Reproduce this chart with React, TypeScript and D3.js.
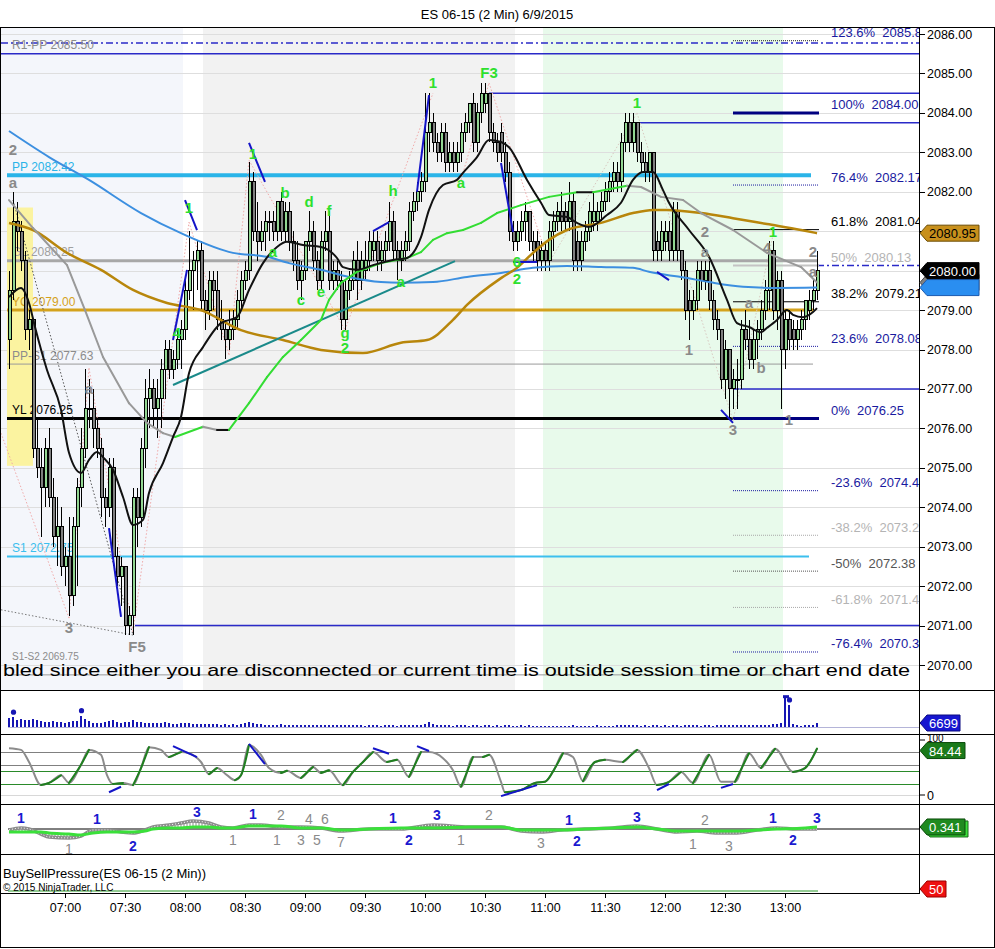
import { useRef, useEffect } from "react";
import * as d3 from "d3";

type Bar = [number, number, number, number];
type Pt = [string, number];

const W = 995;
const H = 949;
const axisX = 919;
const font = "'Liberation Sans', Arial, sans-serif";

// 2 minute bars, first one at 06:32
const firstBar = "06:32";
const barStep = 2;

// open, high, low, close
const ohlc: Bar[] = [
  [2078.25, 2080.0, 2077.5, 2079.5], [2079.5, 2082.0, 2079.25, 2081.25], [2081.25, 2081.75, 2080.5, 2081.0], [2081.0, 2081.25, 2080.0, 2080.25],
  [2080.25, 2080.5, 2078.25, 2078.5], [2078.5, 2079.0, 2078.0, 2078.75], [2078.75, 2078.75, 2075.25, 2075.5], [2075.5, 2076.25, 2074.75, 2075.0],
  [2075.0, 2075.5, 2073.25, 2074.5], [2074.5, 2075.75, 2074.0, 2075.5], [2075.5, 2076.0, 2074.0, 2074.25], [2074.25, 2074.75, 2073.0, 2073.25],
  [2073.25, 2074.25, 2072.5, 2073.5], [2073.5, 2074.0, 2072.25, 2072.5], [2072.5, 2073.0, 2072.0, 2072.75], [2072.75, 2073.75, 2071.25, 2071.75],
  [2071.75, 2073.75, 2071.5, 2073.5], [2073.5, 2074.75, 2072.0, 2074.5], [2074.5, 2076.0, 2074.0, 2075.5], [2075.5, 2077.5, 2075.25, 2076.5],
  [2076.5, 2077.25, 2076.0, 2076.5], [2076.5, 2077.0, 2075.5, 2076.0], [2076.0, 2076.25, 2075.25, 2075.5], [2075.5, 2075.75, 2073.75, 2074.25],
  [2074.25, 2074.5, 2073.5, 2074.0], [2074.0, 2075.25, 2073.75, 2075.0], [2075.0, 2075.25, 2072.5, 2072.75], [2072.75, 2073.0, 2072.0, 2072.25],
  [2072.25, 2072.75, 2071.5, 2072.5], [2072.5, 2072.5, 2070.75, 2071.0], [2071.0, 2071.5, 2070.75, 2071.25], [2071.25, 2074.5, 2070.75, 2074.25],
  [2074.25, 2074.5, 2073.0, 2073.75], [2073.75, 2075.75, 2073.5, 2075.5], [2075.5, 2077.25, 2075.0, 2076.75], [2076.75, 2077.5, 2076.0, 2077.0],
  [2077.0, 2077.25, 2076.0, 2076.5], [2076.5, 2077.25, 2075.75, 2076.75], [2076.75, 2077.75, 2076.0, 2077.5], [2077.5, 2078.25, 2076.75, 2078.0],
  [2078.0, 2078.25, 2077.25, 2077.5], [2077.5, 2078.0, 2077.25, 2077.75], [2077.75, 2078.5, 2077.5, 2078.25], [2078.25, 2078.75, 2077.5, 2078.5],
  [2078.5, 2079.75, 2078.25, 2079.5], [2079.5, 2081.0, 2079.25, 2080.0], [2080.0, 2080.5, 2079.0, 2080.25], [2080.25, 2080.75, 2079.5, 2080.5],
  [2080.5, 2080.75, 2079.0, 2079.25], [2079.25, 2079.5, 2078.5, 2079.0], [2079.0, 2080.0, 2078.75, 2079.75], [2079.75, 2080.0, 2079.0, 2079.5],
  [2079.5, 2080.0, 2078.5, 2078.75], [2078.75, 2079.25, 2078.25, 2078.5], [2078.5, 2078.75, 2077.75, 2078.25], [2078.25, 2079.0, 2078.0, 2078.5],
  [2078.5, 2079.0, 2078.25, 2078.75], [2078.75, 2079.5, 2078.5, 2079.25], [2079.25, 2080.0, 2079.0, 2079.75], [2079.75, 2080.25, 2079.5, 2080.0],
  [2080.0, 2082.75, 2079.75, 2082.25], [2082.25, 2082.5, 2080.75, 2081.0], [2081.0, 2081.75, 2080.25, 2080.75], [2080.75, 2081.25, 2080.5, 2081.0],
  [2081.0, 2081.5, 2080.5, 2081.25], [2081.25, 2081.5, 2080.75, 2081.25], [2081.25, 2081.5, 2080.75, 2081.0], [2081.0, 2081.75, 2080.75, 2081.75],
  [2081.75, 2082.0, 2080.75, 2081.0], [2081.0, 2081.75, 2080.75, 2081.5], [2081.5, 2081.75, 2080.5, 2080.75], [2080.75, 2081.0, 2080.0, 2080.25],
  [2080.25, 2080.75, 2079.5, 2079.75], [2079.75, 2080.25, 2079.25, 2080.0], [2080.0, 2080.75, 2079.75, 2080.75], [2080.75, 2081.5, 2080.5, 2081.0],
  [2081.0, 2081.25, 2080.0, 2080.25], [2080.25, 2080.5, 2079.5, 2079.75], [2079.75, 2081.0, 2079.5, 2080.75], [2080.75, 2081.5, 2080.5, 2081.0],
  [2081.0, 2081.5, 2079.5, 2079.75], [2079.75, 2080.25, 2079.5, 2080.0], [2080.0, 2080.25, 2079.5, 2079.75], [2079.75, 2080.0, 2078.5, 2078.75],
  [2078.75, 2079.75, 2078.5, 2079.5], [2079.5, 2080.0, 2079.25, 2079.75], [2079.75, 2080.5, 2079.5, 2080.25], [2080.25, 2080.75, 2079.25, 2079.75],
  [2079.75, 2080.5, 2079.5, 2080.25], [2080.0, 2080.75, 2079.75, 2080.25], [2080.25, 2081.0, 2080.0, 2080.75], [2080.5, 2081.0, 2080.25, 2080.75],
  [2080.75, 2081.0, 2080.0, 2080.25], [2080.25, 2080.75, 2080.0, 2080.5], [2080.5, 2081.0, 2080.25, 2080.75], [2080.75, 2081.75, 2080.5, 2081.25],
  [2081.25, 2081.5, 2080.25, 2080.5], [2080.5, 2080.75, 2079.75, 2080.25], [2080.25, 2080.75, 2080.0, 2080.5], [2080.5, 2081.0, 2080.25, 2080.75],
  [2080.75, 2081.75, 2080.5, 2081.5], [2081.5, 2082.0, 2081.25, 2081.75], [2081.75, 2082.25, 2081.5, 2082.0], [2082.0, 2082.5, 2081.75, 2082.25],
  [2082.25, 2084.5, 2082.0, 2083.5], [2083.5, 2084.5, 2083.0, 2083.75], [2083.75, 2084.0, 2083.0, 2083.25], [2083.25, 2083.5, 2082.75, 2083.0],
  [2083.0, 2083.75, 2082.75, 2083.5], [2083.5, 2083.75, 2082.5, 2082.75], [2082.75, 2083.25, 2082.5, 2083.0], [2083.0, 2083.25, 2082.5, 2082.75],
  [2082.75, 2083.25, 2082.5, 2083.0], [2083.0, 2083.75, 2082.75, 2083.5], [2083.5, 2084.0, 2083.25, 2083.75], [2083.75, 2084.25, 2083.5, 2084.25],
  [2084.25, 2084.5, 2083.0, 2083.25], [2083.25, 2084.25, 2083.0, 2084.0], [2084.0, 2084.75, 2083.75, 2084.5], [2084.25, 2084.75, 2084.0, 2084.5],
  [2084.5, 2084.5, 2083.25, 2083.5], [2083.5, 2083.75, 2083.0, 2083.25], [2083.25, 2083.5, 2082.75, 2083.0], [2083.5, 2083.75, 2082.75, 2083.0],
  [2083.0, 2083.25, 2082.25, 2082.5], [2082.5, 2082.75, 2080.75, 2081.0], [2081.0, 2081.25, 2080.5, 2080.75], [2080.75, 2081.25, 2080.5, 2081.0],
  [2081.0, 2081.5, 2080.75, 2081.25], [2081.25, 2081.75, 2080.75, 2081.5], [2081.5, 2081.5, 2080.5, 2080.75], [2080.75, 2081.0, 2080.25, 2080.5],
  [2080.75, 2081.0, 2080.0, 2080.25], [2080.25, 2080.75, 2080.0, 2080.5], [2080.5, 2080.75, 2080.0, 2080.25], [2080.25, 2081.25, 2080.0, 2081.0],
  [2081.0, 2081.5, 2080.5, 2081.25], [2081.25, 2081.75, 2081.0, 2081.5], [2081.5, 2082.0, 2081.0, 2081.25], [2081.5, 2081.75, 2081.0, 2081.25],
  [2081.25, 2082.25, 2081.0, 2081.75], [2081.75, 2082.0, 2080.0, 2080.25], [2080.75, 2081.0, 2080.0, 2080.25], [2080.25, 2081.0, 2080.0, 2080.75],
  [2080.75, 2081.25, 2080.5, 2081.0], [2081.0, 2081.75, 2080.75, 2081.5], [2081.25, 2082.0, 2081.0, 2081.5], [2081.25, 2081.75, 2081.0, 2081.5],
  [2081.5, 2082.0, 2081.25, 2081.75], [2081.75, 2082.25, 2081.5, 2082.0], [2082.0, 2082.5, 2081.75, 2082.25], [2082.25, 2082.75, 2082.0, 2082.5],
  [2082.5, 2082.75, 2082.0, 2082.25], [2082.25, 2083.5, 2082.0, 2083.25], [2083.25, 2084.0, 2083.0, 2083.75], [2083.75, 2084.0, 2083.0, 2083.25],
  [2083.25, 2084.0, 2083.0, 2083.75], [2083.75, 2083.75, 2082.75, 2083.0], [2083.0, 2083.25, 2082.5, 2082.75], [2082.75, 2083.0, 2082.25, 2082.5],
  [2082.5, 2083.0, 2082.25, 2083.0], [2083.0, 2083.0, 2080.25, 2080.5], [2080.75, 2081.0, 2080.25, 2080.5], [2080.5, 2081.25, 2080.25, 2081.0],
  [2080.75, 2081.25, 2080.5, 2081.0], [2081.0, 2081.25, 2080.25, 2080.5], [2080.5, 2081.75, 2080.25, 2081.5], [2081.5, 2081.75, 2080.25, 2080.5],
  [2080.5, 2080.5, 2079.75, 2080.0], [2080.0, 2080.25, 2078.75, 2079.0], [2079.25, 2079.5, 2078.25, 2079.0], [2079.0, 2079.5, 2078.75, 2079.25],
  [2079.25, 2080.25, 2079.0, 2080.0], [2080.0, 2080.25, 2079.5, 2079.75], [2079.75, 2080.25, 2079.5, 2080.0], [2080.0, 2080.25, 2079.0, 2079.25],
  [2079.25, 2079.5, 2078.5, 2078.75], [2078.75, 2079.0, 2078.25, 2078.5], [2078.5, 2078.5, 2077.0, 2077.25], [2077.25, 2078.25, 2076.75, 2078.0],
  [2078.0, 2078.0, 2076.25, 2077.0], [2077.0, 2077.5, 2076.5, 2077.25], [2077.25, 2077.75, 2076.5, 2077.25], [2077.25, 2078.75, 2077.0, 2078.5],
  [2078.5, 2079.0, 2078.0, 2078.25], [2078.25, 2078.75, 2077.5, 2077.75], [2077.75, 2078.5, 2077.5, 2078.25], [2078.25, 2078.75, 2077.75, 2078.5],
  [2078.5, 2079.25, 2078.25, 2079.0], [2079.0, 2079.75, 2078.75, 2079.5], [2079.5, 2080.75, 2079.0, 2080.5], [2080.5, 2080.75, 2078.75, 2079.0],
  [2079.0, 2080.0, 2078.5, 2079.75], [2079.75, 2080.0, 2076.5, 2078.0], [2078.0, 2079.0, 2077.5, 2078.75], [2078.75, 2079.0, 2078.0, 2078.25],
  [2078.5, 2078.75, 2078.0, 2078.25], [2078.25, 2078.75, 2078.0, 2078.5], [2078.5, 2079.0, 2078.25, 2078.75], [2078.75, 2079.25, 2078.5, 2079.25],
  [2079.0, 2079.5, 2078.75, 2079.25], [2079.25, 2079.75, 2079.0, 2079.5], [2079.5, 2080.5, 2079.25, 2080.0]
];

const volume = [
  15000, 16500, 11000, 13000, 11500, 12000, 13000, 11000, 10000, 8500,
  8000, 9500, 8000, 8500, 7000, 8000, 10000, 9500, 19000, 13000,
  9500, 7000, 6500, 7000, 8000, 10000, 11000, 8000, 7500, 9000,
  8000, 11000, 8000, 9000, 7500, 7500, 6500, 6000, 7500, 8000,
  6000, 5000, 5000, 6000, 7500, 7000, 5500, 5000, 5000, 4500,
  5500, 5000, 4500, 4000, 4500, 4000, 4500, 4000, 5000, 6500,
  8000, 6000, 5000, 4500, 4000, 4000, 3500, 4000, 4500, 4000,
  3500, 4000, 3500, 3500, 4000, 3500, 3000, 3500, 4000, 3500,
  3500, 3000, 3500, 3500, 3000, 3000, 3500, 3000, 3000, 2500,
  3000, 3000, 3000, 2500, 3000, 3000, 3000, 2500, 3000, 3500,
  3000, 3500, 3000, 3000, 5500, 8000, 4500, 3500, 3000, 3000,
  3000, 2500, 3000, 3000, 3000, 2500, 3000, 3000, 2500, 3000,
  3000, 2500, 3000, 2500, 3000, 3000, 2500, 2500, 3000, 2500,
  3000, 2500, 2500, 2500, 2500, 2000, 2500, 2500, 2500, 2500,
  2500, 3000, 2500, 2500, 2500, 2500, 2500, 3000, 2500, 2500,
  2500, 2500, 3000, 3500, 3500, 3000, 3500, 3000, 2500, 3000,
  2500, 3500, 3000, 2500, 3000, 2500, 3000, 3000, 2500, 3000,
  3500, 3000, 3000, 2500, 3000, 3000, 2500, 3000, 3500, 3000,
  3500, 3000, 3000, 3000, 3500, 3000, 3000, 3500, 3500, 3000,
  3500, 4500, 5000, 7500, 50000, 37000, 5000, 3500, 2500, 3000,
  3000, 3500, 6699
];
const volumeDots = [1, 18, 195];
const volumeCaps = [194];

const priceTicks = [2070, 2071, 2072, 2073, 2074, 2075, 2076, 2077, 2078, 2079, 2080, 2081, 2082, 2083, 2084, 2085, 2086];
const timeTicks = ["07:00", "07:30", "08:00", "08:30", "09:00", "09:30", "10:00", "10:30", "11:00", "11:30", "12:00", "12:30", "13:00"];

// session shading
const sessions: [string, string, string][] = [
  ["06:27", "07:59", "#f4f6fb"],
  ["08:09", "10:45", "#f2f2f2"],
  ["10:59", "12:59", "#e8faeb"]
];
const openRange = { from: "06:31", to: "06:44", top: 2081.6, bottom: 2075.05 };

// moving averages
const blueMA: Pt[] = [
  ["06:32", 2083.54], ["06:52", 2082.88], ["07:12", 2082.3], ["07:38", 2081.46], ["07:58", 2080.95], ["08:24", 2080.45],
  ["08:41", 2080.35], ["08:52", 2080.19], ["09:08", 2080.02], ["09:22", 2079.84], ["09:38", 2079.71], ["09:48", 2079.69],
  ["10:04", 2079.71], ["10:21", 2079.84], ["10:38", 2079.94], ["10:54", 2080.07], ["11:11", 2080.12], ["11:28", 2080.09],
  ["11:44", 2080.07], ["11:52", 2079.97], ["12:01", 2079.89], ["12:08", 2079.84], ["12:22", 2079.71], ["12:39", 2079.59],
  ["12:56", 2079.56], ["13:16", 2079.57]
];
const goldMA: Pt[] = [
  ["06:32", 2081.21], ["06:44", 2081.03], ["07:01", 2080.45], ["07:18", 2080.02], ["07:34", 2079.51], ["07:51", 2079.18],
  ["08:08", 2079.0], ["08:28", 2078.49], ["08:49", 2078.24], ["09:08", 2077.99], ["09:29", 2077.91], ["09:48", 2078.17],
  ["10:01", 2078.24], ["10:14", 2078.75], ["10:21", 2079.13], ["10:38", 2079.81], ["10:46", 2080.07], ["10:54", 2080.45],
  ["11:02", 2080.78], ["11:11", 2081.03], ["11:28", 2081.21], ["11:44", 2081.46], ["11:54", 2081.54], ["12:01", 2081.54],
  ["12:18", 2081.46], ["12:34", 2081.33], ["12:51", 2081.18], ["13:08", 2081.03], ["13:16", 2080.95]
];
const trendMA: Pt[] = [
  ["06:32", 2081.79], ["06:44", 2081.08], ["07:01", 2080.14], ["07:10", 2079.0], ["07:19", 2077.81], ["07:32", 2076.64],
  ["07:41", 2076.14], ["07:49", 2075.88], ["07:55", 2075.78], ["08:09", 2076.04], ["08:16", 2075.96], ["08:22", 2075.96],
  ["08:32", 2076.64], ["08:41", 2077.3], ["08:49", 2077.81], ["08:58", 2078.24], ["09:08", 2078.75], ["09:12", 2079.26],
  ["09:18", 2079.69], ["09:26", 2079.97], ["09:38", 2080.19], ["09:51", 2080.32], ["09:58", 2080.47], ["10:04", 2080.78],
  ["10:11", 2080.95], ["10:19", 2081.03], ["10:28", 2081.21], ["10:36", 2081.46], ["10:48", 2081.66], ["11:02", 2081.87],
  ["11:16", 2081.99], ["11:24", 2081.99], ["11:41", 2082.15], ["11:48", 2082.12], ["11:58", 2081.87], ["12:09", 2081.79],
  ["12:18", 2081.46], ["12:34", 2081.03], ["12:51", 2080.45], ["13:08", 2080.09], ["13:16", 2079.7]
];
const fastMA: Pt[] = [
  ["06:32", 2079.33], ["06:38", 2079.56], ["06:42", 2079.18], ["06:45", 2078.57], ["06:51", 2077.48], ["06:58", 2076.47],
  ["07:02", 2075.38], ["07:08", 2074.87], ["07:12", 2075.2], ["07:16", 2075.4], ["07:19", 2075.27], ["07:24", 2074.95],
  ["07:29", 2074.26], ["07:34", 2073.55], ["07:39", 2073.68], ["07:42", 2074.36], ["07:49", 2075.12], ["07:54", 2075.78],
  ["07:58", 2076.29], ["08:02", 2077.4], ["08:09", 2078.06], ["08:18", 2078.67], ["08:26", 2078.82], ["08:32", 2079.51],
  ["08:39", 2080.19], ["08:46", 2080.6], ["08:51", 2080.73], ["08:59", 2080.65], ["09:08", 2080.6], ["09:16", 2080.32],
  ["09:19", 2080.09], ["09:26", 2080.02], ["09:34", 2080.14], ["09:44", 2080.27], ["09:51", 2080.32], ["09:58", 2080.85],
  ["10:02", 2081.54], ["10:09", 2082.17], ["10:16", 2082.3], ["10:19", 2082.48], ["10:26", 2082.88], ["10:32", 2083.31],
  ["10:38", 2083.26], ["10:42", 2083.13], ["10:51", 2082.3], ["10:58", 2081.72], ["11:02", 2081.41], ["11:11", 2081.36],
  ["11:16", 2081.21], ["11:22", 2081.11], ["11:31", 2081.41], ["11:38", 2081.72], ["11:44", 2082.3], ["11:49", 2082.5],
  ["11:54", 2082.5], ["11:59", 2082.04], ["12:02", 2081.72], ["12:12", 2081.03], ["12:22", 2080.35], ["12:31", 2079.26],
  ["12:36", 2078.67], ["12:42", 2078.57], ["12:48", 2078.44], ["12:51", 2078.55], ["12:56", 2078.75], ["13:01", 2079.0],
  ["13:04", 2078.88], ["13:09", 2078.82], ["13:14", 2078.95], ["13:16", 2079.05]
];
const trendLine: Pt[] = [["07:54", 2077.1], ["10:15", 2080.24]];

// zigzag swing connectors
const swingLines: [string, number, string, number, string][] = [
  ["06:28", 2075.88, "07:02", 2071.19, "#f0aaaa"],
  ["07:02", 2071.19, "07:12", 2077.53, "#f0aaaa"],
  ["07:12", 2077.53, "07:34", 2070.84, "#f0aaaa"],
  ["07:34", 2070.84, "08:02", 2081.23, "#f0aaaa"],
  ["08:02", 2081.23, "08:22", 2077.86, "#f0aaaa"],
  ["08:22", 2077.86, "08:32", 2082.8, "#f0aaaa"],
  ["08:32", 2082.8, "09:20", 2078.5, "#f0aaaa"],
  ["09:20", 2078.5, "10:04", 2084.5, "#f0aaaa"],
  ["10:18", 2082.3, "10:32", 2084.76, "#f0aaaa"],
  ["10:32", 2084.76, "11:02", 2080.2, "#f0aaaa"],
  ["11:02", 2080.2, "11:46", 2084.0, "#d8c8c0"],
  ["11:46", 2084.0, "12:34", 2076.2, "#d8c8c0"],
  ["12:34", 2076.2, "12:54", 2080.9, "#d8c8c0"],
  ["06:34", 2081.79, "07:34", 2070.76, "#555555"],
  ["06:28", 2071.4, "07:34", 2070.76, "#777777"]
];

// short blue strokes
const strokes: [string, number, string, number][] = [
  ["08:00", 2081.79, "08:06", 2081.03], ["08:32", 2083.24, "08:40", 2082.25], ["09:34", 2081.0, "09:42", 2081.23],
  ["09:56", 2082.0, "10:02", 2084.45], ["07:22", 2073.47, "07:28", 2071.22], ["07:54", 2078.24, "08:01", 2080.02],
  ["10:38", 2082.73, "10:44", 2080.98], ["11:56", 2079.97, "12:02", 2079.76], ["12:28", 2076.47, "12:34", 2076.14],
  ["10:44", 2080.22, "10:56", 2080.22]
];

const green = "#2ee02e";
const grey = "#8a8a8a";
const waveLabels: [string, string, number, string][] = [
  ["1", "10:04", 2084.78, green], ["F3", "10:32", 2085.01, green], ["1", "11:46", 2084.25, green],
  ["b", "08:50", 2081.99, green], ["d", "09:02", 2081.74, green], ["f", "09:12", 2081.51, green],
  ["h", "09:44", 2082.02, green], ["a", "08:44", 2080.47, green], ["c", "08:58", 2079.26, green],
  ["e", "09:08", 2079.46, green], ["g", "09:20", 2078.44, green], ["2", "09:20", 2078.04, green],
  ["a", "10:18", 2082.22, green], ["a", "09:48", 2079.71, green], ["1", "08:02", 2081.59, green],
  ["1", "08:34", 2082.98, green], ["4", "07:56", 2078.42, green], ["2", "10:46", 2079.79, green],
  ["6", "10:46", 2080.22, green], ["1", "12:54", 2080.98, green],
  ["2", "06:34", 2083.08, grey], ["a", "06:34", 2082.22, grey], ["a", "07:12", 2077.0, grey],
  ["3", "07:02", 2070.96, grey], ["F5", "07:36", 2070.46, grey], ["2", "12:20", 2080.98, grey],
  ["a", "12:20", 2080.47, grey], ["1", "12:12", 2077.99, grey], ["b", "12:48", 2077.53, grey],
  ["a", "12:42", 2079.2, grey], ["3", "12:34", 2075.96, grey], ["1", "13:02", 2076.21, grey],
  ["2", "13:14", 2080.47, grey], ["a", "13:14", 2079.97, grey], ["4", "12:51", 2080.58, grey]
];

// fibonacci levels: percent, price, line colour, line style, label colour
const fibLevels: [string, number, string, string, string][] = [
  ["123.6", 2085.83, "#222222", "dot", "#1a1aa0"],
  ["100", 2084.0, "#000080", "thick", "#1a1aa0"],
  ["76.4", 2082.17, "#1a1aa0", "dot", "#1a1aa0"],
  ["61.8", 2081.04, "#000000", "thin", "#000000"],
  ["50", 2080.13, "#c4c4c4", "mid", "#b4b4b4"],
  ["38.2", 2079.21, "#000000", "thin", "#000000"],
  ["23.6", 2078.08, "#1a1aa0", "dot", "#1a1aa0"],
  ["0", 2076.25, "#000080", "thick", "#1a1aa0"],
  ["-23.6", 2074.42, "#1a1aa0", "dot", "#1a1aa0"],
  ["-38.2", 2073.29, "#a8a8a8", "dot", "#b4b4b4"],
  ["-50", 2072.38, "#555555", "dot", "#555555"],
  ["-61.8", 2071.46, "#a8a8a8", "dot", "#b4b4b4"],
  ["-76.4", 2070.33, "#1a1aa0", "dot", "#1a1aa0"]
];
const fibFrom = "12:34";
const fibTo = "13:17";

// horizontal levels: price, colour, width, dashed, from, to ("" = to the axis), label, label colour
const levels: [number, string, number, boolean, string, string, string, string][] = [
  [2085.77, "#2a2ac8", 1.5, true, "06:28", "", "", ""],
  [2085.5, "#2a2ac8", 1.5, false, "06:28", "", "R1-PP 2085.50", "#8c8c8c"],
  [2084.5, "#2a2ac8", 1.5, false, "10:32", "", "", ""],
  [2083.75, "#2a2ac8", 1.5, false, "11:46", "", "", ""],
  [2082.42, "#2ab4e8", 4, false, "06:31", "13:13", "PP 2082.42", "#2ab4e8"],
  [2080.25, "#a8a8a8", 3, false, "06:31", "13:16", "GL 2080.25", "#a0a0a0"],
  [2080.13, "#2a2ac8", 1.5, true, "13:16", "", "", ""],
  [2079.0, "#d4a21c", 3, false, "06:31", "13:14", "YC 2079.00", "#d4a21c"],
  [2077.63, "#9a9a9a", 1, false, "06:31", "13:14", "PP-S1 2077.63", "#8c8c8c"],
  [2077.0, "#2a2ac8", 1.5, false, "12:34", "", "", ""],
  [2076.25, "#000000", 3, false, "06:31", "13:16", "YL 2076.25", "#000000"],
  [2072.75, "#3cbfee", 2, false, "06:31", "13:12", "S1 2072.75", "#3cbfee"],
  [2071.0, "#2a2ac8", 1.5, false, "07:35", "", "", ""],
  [2069.75, "#9a9a9a", 1, false, "06:31", "13:14", "S1-S2 2069.75", "#8c8c8c"]
];

// stochastics
const stoch: Pt[] = [
  ["06:32", 85], ["06:38", 82], ["06:42", 60], ["06:48", 18], ["06:52", 22], ["06:58", 36], ["07:02", 22], ["07:08", 55],
  ["07:12", 82], ["07:18", 73], ["07:21", 36], ["07:24", 20], ["07:29", 22], ["07:34", 18], ["07:38", 49], ["07:42", 87],
  ["07:48", 82], ["07:52", 69], ["07:58", 78], ["08:02", 76], ["08:08", 60], ["08:12", 38], ["08:16", 49], ["08:21", 36],
  ["08:25", 27], ["08:28", 36], ["08:32", 91], ["08:38", 73], ["08:42", 49], ["08:48", 40], ["08:51", 44], ["08:58", 31],
  ["09:04", 51], ["09:08", 40], ["09:12", 45], ["09:19", 18], ["09:24", 42], ["09:29", 60], ["09:34", 78], ["09:41", 60],
  ["09:46", 64], ["09:52", 33], ["09:58", 78], ["10:02", 78], ["10:09", 67], ["10:14", 45], ["10:18", 15], ["10:24", 69],
  ["10:29", 69], ["10:32", 73], ["10:38", 24], ["10:40", 5], ["10:48", 9], ["10:55", 22], ["11:00", 24], ["11:05", 49],
  ["11:09", 76], ["11:14", 69], ["11:19", 25], ["11:25", 60], ["11:30", 64], ["11:39", 60], ["11:46", 82], ["11:52", 49],
  ["11:56", 18], ["12:02", 24], ["12:08", 42], ["12:14", 22], ["12:22", 73], ["12:28", 24], ["12:35", 24], ["12:42", 76],
  ["12:48", 49], ["12:55", 84], ["13:04", 42], ["13:10", 49], ["13:16", 84.44]
];
const stochLevels: [number, string][] = [[78, "#808080"], [54, "#808080"], [43, "#2a8a2a"], [20, "#2a8a2a"], [0, "#d8d8d8"]];
const stochAxis = [0, 100];
const stochStrokes: [string, number, string, number][] = [
  ["07:22", 5, "07:28", 15], ["07:54", 89, "08:06", 69], ["08:32", 93, "08:40", 56], ["09:34", 85, "09:42", 75],
  ["09:56", 89, "10:02", 80], ["10:38", -2, "10:56", 18], ["11:56", 9, "12:02", 20], ["12:28", 13, "12:34", 20]
];

// oscillator: sample times with slow (grey) and fast (green) values
const oscTimes = [
  "06:32", "06:38", "06:42", "06:48", "06:52", "07:02", "07:08", "07:14", "07:21", "07:28", "07:34", "07:40", "07:44", "07:52",
  "07:58", "08:04", "08:12", "08:18", "08:24", "08:32", "08:38", "08:48", "08:58", "09:08", "09:18", "09:32", "09:48", "10:04",
  "10:22", "10:38", "10:48", "10:58", "11:08", "11:20", "11:34", "11:46", "11:56", "12:06", "12:16", "12:26", "12:36", "12:46",
  "12:56", "13:06", "13:16"
];
const oscSlow = [
  -0.17, 0.17, 0, -0.84, -1.34, -1.5, -1.18, -0.17, -0.17, -0.5, -0.67, -0.17, 0.34, 0.67,
  1.0, 1.34, 1.0, 0.34, 0.17, 0.67, 0.67, 0.34, 0.34, 0.17, -0.34, 0, 0, 0.67,
  0.34, 0.34, -0.34, -0.5, -0.17, 0, 0.17, 0.5, 0, -0.5, -0.34, -0.67, -0.67, -0.17,
  0.17, 0, 0
];
const oscFast = [
  -0.5, -0.5, -0.5, -0.5, -0.67, -0.84, -1.0, -0.67, -0.5, -0.5, -0.5, -0.34, 0, 0.17,
  0.17, 0.34, 0.34, 0.17, 0.17, 0.5, 0.5, 0.5, 0.17, 0.17, -0.17, 0, 0.17, 0.17,
  0.34, 0.34, -0.17, -0.17, -0.17, 0, 0.17, 0.34, 0, -0.34, -0.34, -0.34, -0.34, -0.17,
  0, 0.1, 0.341
];
const blue = "#1a1ad0";
const oscLabels: [string, string, number, string][] = [
  ["1", "06:38", 1.85, blue], ["1", "07:16", 1.68, blue], ["3", "08:06", 2.86, blue], ["1", "08:34", 2.52, blue],
  ["2", "08:48", 2.35, grey], ["4", "09:02", 1.68, grey], ["6", "09:10", 1.68, grey], ["1", "09:44", 1.85, blue],
  ["3", "10:06", 2.35, blue], ["2", "10:32", 2.35, grey], ["1", "11:12", 1.5, blue], ["3", "11:46", 2.0, blue],
  ["2", "12:20", 1.5, grey], ["1", "12:54", 1.85, blue], ["3", "13:16", 1.85, blue],
  ["1", "07:02", -3.36, grey], ["2", "07:34", -2.86, blue], ["1", "08:24", -1.85, grey], ["1", "08:46", -1.85, grey],
  ["3", "08:58", -1.85, grey], ["5", "09:06", -1.85, grey], ["7", "09:18", -2.18, grey], ["2", "09:52", -1.85, blue],
  ["1", "10:18", -1.85, grey], ["3", "10:58", -2.35, grey], ["2", "11:16", -2.0, blue], ["1", "12:14", -2.52, grey],
  ["3", "12:32", -2.86, grey], ["2", "13:04", -1.85, blue]
];

const bspLevel = 50;

const message = "bled since either you are disconnected or current time is outside session time or chart end date";

export default function App() {
  const svgRef = useRef<SVGSVGElement>(null);

  useEffect(() => {
    const svg = d3.select(svgRef.current as SVGSVGElement);
    svg.selectAll("*").remove();

    const tp = d3.timeParse("%H:%M");
    const t = (s: string) => tp(s) as Date;
    const barTime = (i: number) => d3.timeMinute.offset(t(firstBar), i * barStep);

    const x = d3.scaleTime().domain([t("07:00"), t("13:00")]).range([65, 785]);
    const y = d3.scaleLinear().domain([2070, 2086]).range([665, 34]);
    const yVol = d3.scaleLinear().domain([0, 57000]).range([727, 693]);
    const yStoch = d3.scaleLinear().domain([0, 100]).range([795, 740]);
    const yOsc = d3.scaleLinear().domain([-4.2, 4.2]).range([854, 804]);
    const yBsp = d3.scaleLinear().domain([0, 100]).range([895, 887]);

    const panels = { price: [27, 690], vol: [690, 734], stoch: [734, 804], osc: [804, 854], bsp: [854, 893] };

    svg.append("rect").attr("width", W).attr("height", H).attr("fill", "#fff");

    const defs = svg.append("defs");
    Object.entries(panels).forEach(([k, [a, b]]) => {
      defs.append("clipPath").attr("id", "clip-" + k)
        .append("rect").attr("x", 1).attr("y", a + 1).attr("width", axisX - 1).attr("height", b - a - 1);
    });
    const hatch = defs.append("pattern").attr("id", "hatch").attr("width", 3).attr("height", 4)
      .attr("patternUnits", "userSpaceOnUse");
    hatch.append("rect").attr("width", 3).attr("height", 4).attr("fill", "#fff");
    hatch.append("line").attr("x1", 1).attr("x2", 1).attr("y1", 0).attr("y2", 4).attr("stroke", "#8a8a8a").attr("stroke-width", 1);

    // title
    svg.append("text").attr("x", 497).attr("y", 19).attr("text-anchor", "middle")
      .style("font-family", font).style("font-size", "13px").text("ES 06-15 (2 Min)  6/9/2015");

    // ---------------- price panel
    const pg = svg.append("g").attr("clip-path", "url(#clip-price)");

    pg.selectAll("rect.session").data(sessions).join("rect")
      .attr("x", d => x(t(d[0]))).attr("width", d => x(t(d[1])) - x(t(d[0])))
      .attr("y", panels.price[0]).attr("height", panels.price[1] - panels.price[0])
      .attr("fill", d => d[2]);

    pg.selectAll("line.grid").data(priceTicks).join("line")
      .attr("x1", 1).attr("x2", axisX).attr("y1", d => Math.round(y(d)) + 0.5).attr("y2", d => Math.round(y(d)) + 0.5)
      .attr("stroke", "#dedede");

    pg.append("rect")
      .attr("x", x(t(openRange.from))).attr("width", x(t(openRange.to)) - x(t(openRange.from)))
      .attr("y", y(openRange.top)).attr("height", y(openRange.bottom) - y(openRange.top))
      .attr("fill", "#fbf3a0");

    levels.forEach(([p, col, w, dashed, from, to, label, lc]) => {
      pg.append("line")
        .attr("x1", x(t(from))).attr("x2", to ? x(t(to)) : axisX)
        .attr("y1", y(p)).attr("y2", y(p))
        .attr("stroke", col).attr("stroke-width", w)
        .attr("stroke-dasharray", dashed ? "7,3,2,3" : null);
      if (label) {
        // the lowest label sits just above the message banner
        const ly = p < 2070 ? y(p) - 15 : y(p) - 4.5;
        pg.append("text").attr("x", 12).attr("y", ly).attr("fill", lc)
          .style("font-family", font).style("font-size", p < 2070 ? "10px" : "12px").text(label);
      }
    });

    // fib levels
    fibLevels.forEach(([pct, p, col, style, lc]) => {
      const ly = y(p);
      pg.append("line")
        .attr("x1", x(t(fibFrom))).attr("x2", x(t(fibTo)))
        .attr("y1", ly).attr("y2", ly).attr("stroke", col)
        .attr("stroke-width", style === "thick" ? 3 : style === "mid" ? 2 : 1)
        .attr("stroke-dasharray", style === "dot" ? "1,1" : null);
      pg.append("text").attr("x", 831).attr("y", ly - 3.5).attr("fill", lc)
        .style("font-family", font).style("font-size", "13px")
        .style("white-space", "pre")
        .text(`${pct}%  ${p.toFixed(2)}`);
    });

    const line = d3.line<Pt>().x(d => x(t(d[0]))).y(d => y(d[1])).curve(d3.curveMonotoneX);

    swingLines.forEach(([t1, p1, t2, p2, col]) => {
      pg.append("line").attr("x1", x(t(t1))).attr("y1", y(p1)).attr("x2", x(t(t2))).attr("y2", y(p2))
        .attr("stroke", col).attr("stroke-width", 1).attr("stroke-dasharray", "1.5,2");
    });

    // candles
    const cg = pg.append("g").attr("shape-rendering", "crispEdges");
    cg.selectAll("line.wick").data(ohlc).join("line")
      .attr("x1", (d, i) => Math.round(x(barTime(i))) + 0.5).attr("x2", (d, i) => Math.round(x(barTime(i))) + 0.5)
      .attr("y1", d => y(d[1])).attr("y2", d => y(d[2]))
      .attr("stroke", "#000");
    cg.selectAll("rect.body").data(ohlc).join("rect")
      .attr("x", (d, i) => Math.round(x(barTime(i))) - 1)
      .attr("width", 3)
      .attr("y", d => y(Math.max(d[0], d[3])))
      .attr("height", d => Math.max(1, Math.abs(y(d[0]) - y(d[3]))))
      .attr("fill", d => (d[3] > d[0] ? "#92d692" : "#7f7f7f"))
      .attr("stroke", "#000").attr("stroke-width", 1);

    // moving averages
    pg.append("path").attr("d", line(blueMA)).attr("fill", "none").attr("stroke", "#3c8fe0").attr("stroke-width", 2);
    pg.append("path").attr("d", line(goldMA)).attr("fill", "none").attr("stroke", "#b8860b").attr("stroke-width", 2.5);
    pg.append("line")
      .attr("x1", x(t(trendLine[0][0]))).attr("y1", y(trendLine[0][1]))
      .attr("x2", x(t(trendLine[1][0]))).attr("y2", y(trendLine[1][1]))
      .attr("stroke", "#1a8a8a").attr("stroke-width", 2);
    for (let k = 1; k < trendMA.length; k++) {
      const a = trendMA[k - 1], b = trendMA[k];
      const dp = b[1] - a[1];
      const col = Math.abs(dp) < 0.03 ? "#111" : dp > 0 ? "#33dd33" : "#999999";
      pg.append("line").attr("x1", x(t(a[0]))).attr("y1", y(a[1])).attr("x2", x(t(b[0]))).attr("y2", y(b[1]))
        .attr("stroke", col).attr("stroke-width", 2).attr("stroke-linecap", "round");
    }
    pg.append("path").attr("d", line(fastMA)).attr("fill", "none").attr("stroke", "#111").attr("stroke-width", 2);

    strokes.forEach(([t1, p1, t2, p2]) => {
      pg.append("line").attr("x1", x(t(t1))).attr("y1", y(p1)).attr("x2", x(t(t2))).attr("y2", y(p2))
        .attr("stroke", "#1414c8").attr("stroke-width", 2);
    });

    pg.selectAll("text.wave").data(waveLabels).join("text")
      .attr("x", d => x(t(d[1]))).attr("y", d => y(d[2])).attr("dy", "0.36em")
      .attr("text-anchor", "middle").attr("fill", d => d[3])
      .style("font-family", font).style("font-size", "15px").style("font-weight", "bold")
      .text(d => d[0]);

    pg.append("text").attr("x", 3).attr("y", 676).attr("textLength", 907).attr("lengthAdjust", "spacingAndGlyphs")
      .style("font-family", font).style("font-size", "17px").attr("fill", "#000").text(message);

    // ---------------- volume
    const vg = svg.append("g").attr("clip-path", "url(#clip-vol)");
    vg.append("line").attr("x1", 8).attr("x2", axisX).attr("y1", yVol(0) + 0.5).attr("y2", yVol(0) + 0.5).attr("stroke", "#b4b4d8");
    vg.selectAll("rect.vol").data(volume).join("rect")
      .attr("x", (d, i) => Math.round(x(barTime(i))) - 1).attr("width", 2)
      .attr("y", d => yVol(d)).attr("height", d => yVol(0) - yVol(d))
      .attr("fill", "#1616b4").attr("shape-rendering", "crispEdges");
    volumeDots.forEach(i => {
      vg.append("circle").attr("cx", x(barTime(i)) + 0.5).attr("cy", yVol(volume[i]) - 5).attr("r", 2.6).attr("fill", "#1616b4");
    });
    volumeCaps.forEach(i => {
      vg.append("rect").attr("x", x(barTime(i)) - 2).attr("y", yVol(volume[i]) - 2).attr("width", 6).attr("height", 3).attr("fill", "#1616b4");
    });

    // ---------------- stochastics
    const sg = svg.append("g").attr("clip-path", "url(#clip-stoch)");
    stochLevels.forEach(([v, col]) => {
      sg.append("line").attr("x1", 1).attr("x2", axisX).attr("y1", Math.round(yStoch(v)) + 0.5).attr("y2", Math.round(yStoch(v)) + 0.5)
        .attr("stroke", col);
    });
    const sLine = d3.line<Pt>().x(d => x(t(d[0]))).y(d => yStoch(d[1])).curve(d3.curveMonotoneX);
    sg.append("path").attr("d", sLine(stoch)).attr("fill", "none").attr("stroke", "#8c8c8c").attr("stroke-width", 2);
    // rising stretches in green
    let k = 1;
    while (k < stoch.length) {
      if (stoch[k][1] > stoch[k - 1][1]) {
        const start = k - 1;
        while (k < stoch.length && stoch[k][1] > stoch[k - 1][1]) k++;
        sg.append("path").attr("d", sLine(stoch.slice(start, k))).attr("fill", "none")
          .attr("stroke", "#1f7f1f").attr("stroke-width", 2).attr("stroke-linecap", "round");
      } else {
        k++;
      }
    }
    stochStrokes.forEach(([t1, v1, t2, v2]) => {
      sg.append("line").attr("x1", x(t(t1))).attr("y1", yStoch(v1)).attr("x2", x(t(t2))).attr("y2", yStoch(v2))
        .attr("stroke", "#1414c8").attr("stroke-width", 2);
    });

    // ---------------- oscillator
    const og = svg.append("g").attr("clip-path", "url(#clip-osc)");
    og.append("line").attr("x1", 8).attr("x2", axisX).attr("y1", yOsc(0)).attr("y2", yOsc(0)).attr("stroke", "#000");
    const idx = oscTimes.map((d, i) => i);
    const area = d3.area<number>().x(i => x(t(oscTimes[i]))).y0(i => yOsc(oscFast[i])).y1(i => yOsc(oscSlow[i])).curve(d3.curveMonotoneX);
    og.append("path").attr("d", area(idx)).attr("fill", "url(#hatch)").attr("stroke", "none");
    const slowLine = d3.line<number>().x(i => x(t(oscTimes[i]))).y(i => yOsc(oscSlow[i])).curve(d3.curveMonotoneX);
    const fastLine = d3.line<number>().x(i => x(t(oscTimes[i]))).y(i => yOsc(oscFast[i])).curve(d3.curveMonotoneX);
    og.append("path").attr("d", slowLine(idx)).attr("fill", "none").attr("stroke", "#8c8c8c").attr("stroke-width", 3.5);
    og.append("path").attr("d", slowLine(idx)).attr("fill", "none").attr("stroke", "#fff").attr("stroke-width", 1)
      .attr("stroke-dasharray", "1,2");
    og.append("path").attr("d", fastLine(idx)).attr("fill", "none").attr("stroke", "#3ae03a").attr("stroke-width", 3);
    og.selectAll("text.osc").data(oscLabels).join("text")
      .attr("x", d => x(t(d[1]))).attr("y", d => yOsc(d[2])).attr("dy", "0.36em")
      .attr("text-anchor", "middle").attr("fill", d => d[3])
      .style("font-family", font).style("font-size", "14px").style("font-weight", d => (d[3] === blue ? "bold" : "normal"))
      .text(d => d[0]);

    // ---------------- buy/sell pressure
    const bg = svg.append("g").attr("clip-path", "url(#clip-bsp)");
    bg.append("line").attr("x1", x(barTime(0)) - 1).attr("x2", x(barTime(ohlc.length - 1)) + 1)
      .attr("y1", yBsp(bspLevel)).attr("y2", yBsp(bspLevel)).attr("stroke", "#2a9a2a");
    bg.append("text").attr("x", 3).attr("y", 878).style("font-family", font).style("font-size", "13px")
      .text("BuySellPressure(ES 06-15 (2 Min))");
    bg.append("text").attr("x", 3).attr("y", 891).style("font-family", font).style("font-size", "10px")
      .text("© 2015 NinjaTrader, LLC");

    // ---------------- frames
    const frame = svg.append("g").attr("stroke", "#000").attr("shape-rendering", "crispEdges").attr("fill", "none");
    frame.append("rect").attr("x", 0.5).attr("y", 27.5).attr("width", W - 1.5).attr("height", H - 29);
    [panels.price[1], panels.vol[1], panels.stoch[1], panels.osc[1]].forEach(v => {
      frame.append("line").attr("x1", 0).attr("x2", W).attr("y1", v + 0.5).attr("y2", v + 0.5);
    });
    frame.append("line").attr("x1", 0).attr("x2", axisX).attr("y1", panels.bsp[1] + 0.5).attr("y2", panels.bsp[1] + 0.5);
    frame.append("line").attr("x1", axisX + 0.5).attr("x2", axisX + 0.5).attr("y1", 27).attr("y2", panels.bsp[1] + 1);

    // value markers sit on the price axis; tick labels they cover are hidden like in the platform
    const lastClose = ohlc[ohlc.length - 1][3];
    const priceMarkers: [number, string, string, string][] = [
      [trendMA[trendMA.length - 1][1], "#808080", "#444", "#fff"],
      [blueMA[blueMA.length - 1][1], "#2a8ef0", "#1a5ab0", "#fff"],
      [goldMA[goldMA.length - 1][1], "#c8901c", "#6a4a00", "#000"],
      [lastClose, "#000", "#000", "#fff"]
    ];

    // price axis
    const ax = svg.append("g");
    priceTicks.forEach(p => {
      ax.append("line").attr("x1", axisX).attr("x2", axisX + 6).attr("y1", Math.round(y(p)) + 0.5).attr("y2", Math.round(y(p)) + 0.5)
        .attr("stroke", "#000");
      const covered = priceMarkers.some(m => Math.abs(y(m[0]) - y(p)) < 12);
      if (!covered) {
        ax.append("text").attr("x", 927).attr("y", y(p) + 4.5).style("font-family", font).style("font-size", "12.5px")
          .text(p.toFixed(2));
      }
    });
    // stochastic scale: "100" peeks out above the value box
    stochAxis.forEach(v => {
      ax.append("line").attr("x1", axisX).attr("x2", axisX + 6).attr("y1", yStoch(v)).attr("y2", yStoch(v)).attr("stroke", "#000");
      ax.append("text").attr("x", 927).attr("y", v === 100 ? yStoch(v) + 2 : yStoch(v) + 4.5)
        .style("font-family", font).style("font-size", v === 100 ? "10px" : "12.5px").text(String(v));
    });

    // time axis
    timeTicks.forEach(s => {
      const tx = Math.round(x(t(s))) + 0.5;
      ax.append("line").attr("x1", tx).attr("x2", tx).attr("y1", panels.bsp[1]).attr("y2", panels.bsp[1] + 5).attr("stroke", "#000");
      ax.append("text").attr("x", tx).attr("y", 912).attr("text-anchor", "middle")
        .style("font-family", font).style("font-size", "12.5px").text(s);
    });

    const marker = (my: number, fill: string, stroke: string, label: string, color: string, w: number, dx = 0) => {
      const m = ax.append("g").attr("transform", `translate(${dx},0)`);
      m.append("path")
        .attr("d", `M${axisX + 1},${my} L${axisX + 8},${my - 8} L${axisX + 8 + w},${my - 8} L${axisX + 8 + w},${my + 8} L${axisX + 8},${my + 8} Z`)
        .attr("fill", fill).attr("stroke", stroke).attr("stroke-width", 1);
      if (label) {
        m.append("text").attr("x", axisX + 10).attr("y", my + 5).attr("fill", color)
          .style("font-family", font).style("font-size", "13px").text(label);
      }
    };
    // the grey and blue average markers are buried under the last price, only their boxes peek out
    priceMarkers.forEach(([v, fill, stroke, color], i) => {
      const hidden = i < 2;
      marker(y(v), fill, stroke, hidden ? "" : v.toFixed(2), color, 52);
    });
    marker(yVol(volume[volume.length - 1]), "#1616d0", "#0a0a80", String(volume[volume.length - 1]), "#fff", 33);
    marker(yStoch(stoch[stoch.length - 1][1]) + 2, "#1a7a1a", "#0a4a0a", stoch[stoch.length - 1][1].toFixed(2), "#fff", 38);
    marker(yOsc(oscFast[oscFast.length - 1]) + 2, "#3ae03a", "#1a6a1a", "", "#fff", 38, 3);
    marker(yOsc(oscFast[oscFast.length - 1]), "#1f8a1f", "#0a4a0a", oscFast[oscFast.length - 1].toFixed(3), "#fff", 38);
    marker(yBsp(bspLevel) - 2, "#ee1111", "#900", String(bspLevel), "#fff", 19);
  }, []);

  return (
    <svg ref={svgRef} width={W} height={H} style={{ display: "block", position: "absolute", left: 0, top: 0 }} />
  );
}
